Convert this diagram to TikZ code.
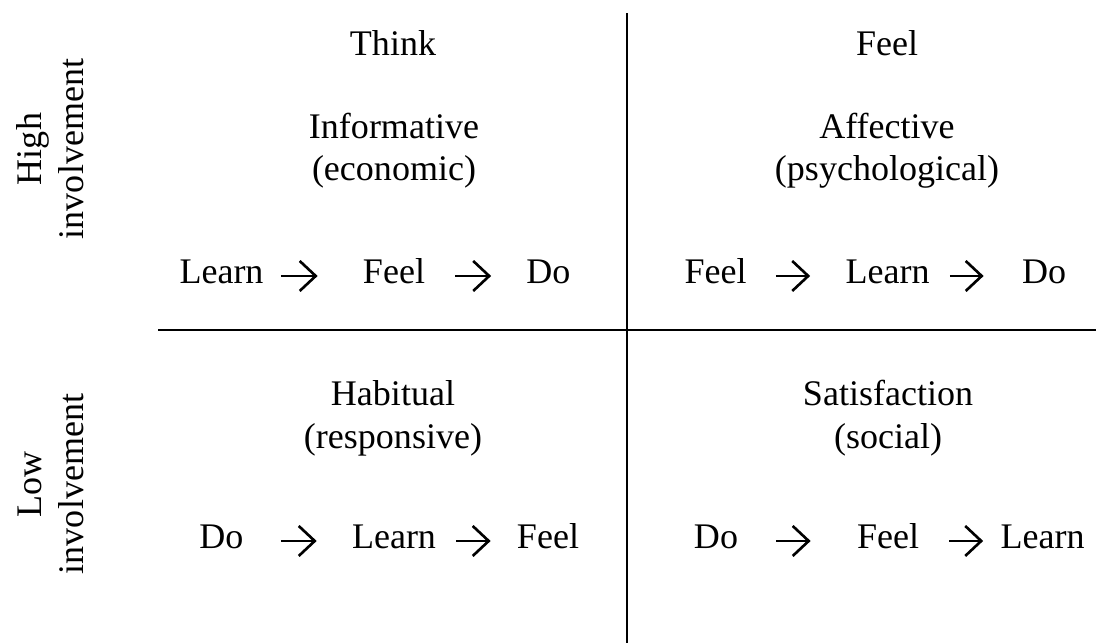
\documentclass[tikz,border=0pt]{standalone}
\usepackage{fontspec}
\setmainfont{Liberation Serif}
\usetikzlibrary{arrows.meta}
\tikzset{
  txt/.style={font=\fontsize{20.5}{24}\selectfont, inner sep=0pt, anchor=base},
  word/.style={txt, text height=0.8em, text depth=0pt},
  flow/.style={line width=1.5pt, -{Straight Barb[length=0.32cm, width=0.6cm]}},
  gaps/.style 2 args={shorten <=#1*0.02cm, shorten >=#2*0.02cm},
  axis/.style={line width=1.7pt}
}
\begin{document}
\begin{tikzpicture}[x=0.02cm, y=-0.02cm]
\useasboundingbox (0,0) rectangle (1096,643);
% the two axes
\draw[axis] (158,330) -- (1096,330);
\draw[axis] (627,13) -- (627,643);
% row labels
\node[txt, rotate=90] (high) at (41,149) {High};
\node[txt, rotate=90] (highinv) at (83,149) {involvement};
\node[txt, rotate=90] (low) at (41,484) {Low};
\node[txt, rotate=90] (lowinv) at (83,484) {involvement};
% column heads
\node[txt] (think) at (393,55) {Think};
\node[txt] (feel) at (887,55) {Feel};
% top left
\node[txt] (tlname) at (394,138) {Informative};
\node[txt] (tlsub) at (394,180) {(economic)};
\node[word] (tl1) at (221.5,283) {Learn};
\node[word] (tl2) at (394,283) {Feel};
\node[word] (tl3) at (548.5,283) {Do};
\draw[flow, gaps={17}{45}] (tl1.east) -- (tl2.west);
\draw[flow, gaps={30}{35}] (tl2.east) -- (tl3.west);
% top right
\node[txt] (trname) at (887,138) {Affective};
\node[txt] (trsub) at (887,180) {(psychological)};
\node[word] (tr1) at (715.5,283) {Feel};
\node[word] (tr2) at (887.5,283) {Learn};
\node[word] (tr3) at (1044,283) {Do};
\draw[flow, gaps={29}{35}] (tr1.east) -- (tr2.west);
\draw[flow, gaps={20}{38}] (tr2.east) -- (tr3.west);
% bottom left
\node[txt] (blname) at (393,405) {Habitual};
\node[txt] (blsub) at (393,448) {(responsive)};
\node[word] (bl1) at (221.5,548) {Do};
\node[word] (bl2) at (394,548) {Learn};
\node[word] (bl3) at (548,548) {Feel};
\draw[flow, gaps={37}{35}] (bl1.east) -- (bl2.west);
\draw[flow, gaps={20}{26}] (bl2.east) -- (bl3.west);
% bottom right
\node[txt] (brname) at (888,405) {Satisfaction};
\node[txt] (brsub) at (888,448) {(social)};
\node[word] (br1) at (716,548) {Do};
\node[word] (br2) at (888,548) {Feel};
\node[word] (br3) at (1042.5,548) {Learn};
\draw[flow, gaps={38}{46}] (br1.east) -- (br2.west);
\draw[flow, gaps={30}{17}] (br2.east) -- (br3.west);
\end{tikzpicture}
\end{document}
